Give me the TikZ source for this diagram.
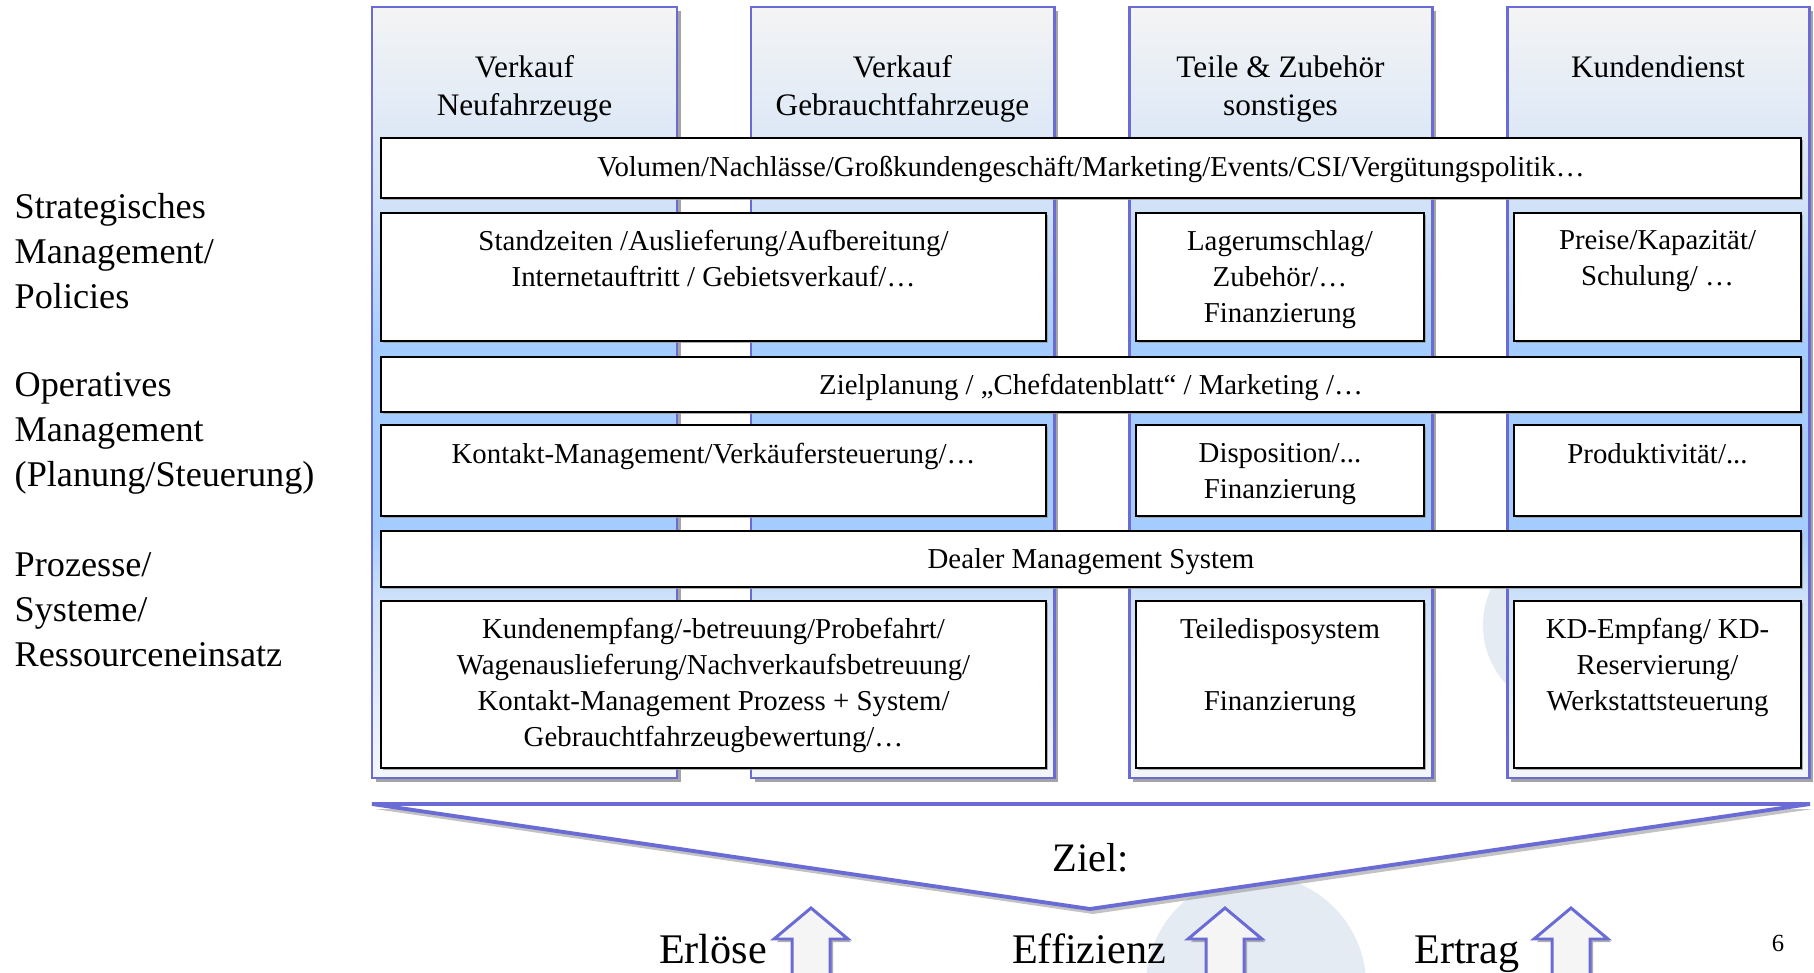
\documentclass[tikz,border=0pt]{standalone}
\usepackage{fontspec}
\setmainfont{Liberation Serif}
\usetikzlibrary{positioning,fit,shadows}

\definecolor{colBorder}{HTML}{6B6BD5}
\definecolor{colTop}{HTML}{F4F4F4}
\definecolor{colMid}{HTML}{A4CCFF}
\definecolor{colPale}{HTML}{D0E2F8}
\definecolor{colBot}{HTML}{F3F6F9}
\definecolor{shadowGray}{HTML}{9A9A9A}
\definecolor{bubbleBlue}{HTML}{E4EBF3}
\definecolor{arrowFill}{HTML}{F5F5F5}

\pgfdeclareverticalshading{columnshade}{100bp}{color(0bp)=(colBot); color(25bp)=(colBot); color(36.5bp)=(colPale); color(41bp)=(colMid); color(52.8bp)=(colMid); color(62bp)=(colPale); color(75bp)=(colTop); color(100bp)=(colTop)}

\begin{document}
\begin{tikzpicture}[x=0.01cm, y=-0.01cm,
    column/.style={draw=colBorder, line width=0.85pt, shading=columnshade, inner sep=0pt,
      drop shadow={shadow xshift=0.4mm, shadow yshift=-0.4mm, fill=shadowGray, opacity=0.9}},
    cell/.style={draw=black, line width=0.75pt, fill=white, inner sep=0pt,
      drop shadow={shadow xshift=0.2mm, shadow yshift=-0.2mm, fill=shadowGray, opacity=0.8}},
    celltext/.style={font=\fontsize{8.2}{10.2}\selectfont, align=center, inner sep=0pt},
    bartext/.style={font=\fontsize{8.2}{10.2}\selectfont, inner sep=0pt, anchor=base},
    headtext/.style={font=\fontsize{8.9}{10.8}\selectfont, align=center, inner sep=0pt, anchor=north},
    leveltext/.style={font=\fontsize{10.3}{12.8}\selectfont, align=left, inner sep=0pt, anchor=north west},
    goaltext/.style={font=\fontsize{12}{14}\selectfont, inner sep=0pt, anchor=base},
    goalwedge/.style={draw=colBorder, line width=1.1pt, fill=white, line join=miter,
      drop shadow={shadow xshift=0.3mm, shadow yshift=-0.5mm, fill=shadowGray, opacity=0.6}},
    uparrow/.style={draw=colBorder, line width=0.85pt, fill=arrowFill, line join=miter,
      drop shadow={shadow xshift=0.3mm, shadow yshift=-0.3mm, fill=shadowGray, opacity=0.8}}]

  \useasboundingbox (0,0) rectangle (1814,973);

  % Background bubbles
  \fill[bubbleBlue] (1256,985) circle (1.1cm);
  \fill[bubbleBlue] (1570,625) circle (0.87cm);

  % Columns
  \node[column, fit={(372,7) (677,778)}] (colNeu) {};
  \node[column, fit={(751,7) (1054,778)}] (colGebr) {};
  \node[column, fit={(1129,7) (1432,778)}] (colTeile) {};
  \node[column, fit={(1507,7) (1809,778)}] (colKD) {};

  \node[headtext] (hNeu) at (524.5,55) {Verkauf\\Neufahrzeuge};
  \node[headtext] (hGebr) at (902.5,55) {Verkauf\\Gebrauchtfahrzeuge};
  \node[headtext] (hTeile) at (1280.5,55) {Teile \& Zubehör\\sonstiges};
  \node[headtext] (hKD) at (1658,55) {Kundendienst};

  % Levels
  \node[leveltext] (lvStrat) at (14,193) {Strategisches\\Management/\\Policies};
  \node[leveltext] (lvOp) at (14,372) {Operatives\\Management\\(Planung/Steuerung)};
  \node[leveltext] (lvProz) at (14,552) {Prozesse/\\Systeme/\\Ressourceneinsatz};

  % Strategisches Management
  \node[cell, fit={(381,138) (1801,198)}] (barPol) {};
  \node[bartext] (tPol) at (1091,176.5) {Volumen/Nachlässe/Großkundengeschäft/Marketing/Events/CSI/Vergütungspolitik…};
  \node[cell, fit={(381,213) (1046,341)}] (polVK) {};
  \node[cell, fit={(1136,213) (1424,341)}] (polTeile) {};
  \node[cell, fit={(1514,213) (1801,341)}] (polKD) {};
  \node[celltext, below=0.18cm of polVK.north] (tPolVK) {Standzeiten /Auslieferung/Aufbereitung/\\Internetauftritt / Gebietsverkauf/…};
  \node[celltext, below=0.18cm of polTeile.north] (tPolTeile) {Lagerumschlag/\\Zubehör/…\\Finanzierung};
  \node[celltext, below=0.18cm of polKD.north] (tPolKD) {Preise/Kapazität/\\Schulung/ …};

  % Operatives Management
  \node[cell, fit={(381,357) (1801,412)}] (barOp) {};
  \node[bartext] (tOp) at (1091,394.5) {Zielplanung / „Chefdatenblatt“ / Marketing /…};
  \node[cell, fit={(381,425) (1046,516)}] (opVK) {};
  \node[cell, fit={(1136,425) (1424,516)}] (opTeile) {};
  \node[cell, fit={(1514,425) (1801,516)}] (opKD) {};
  \node[celltext, below=0.19cm of opVK.north] (tOpVK) {Kontakt-Management/Verkäufersteuerung/…};
  \node[celltext, below=0.19cm of opTeile.north] (tOpTeile) {Disposition/...\\Finanzierung};
  \node[celltext, below=0.19cm of opKD.north] (tOpKD) {Produktivität/...};

  % Prozesse / Systeme
  \node[cell, fit={(381,531) (1801,587)}] (barSys) {};
  \node[bartext] (tSys) at (1091,568.5) {Dealer Management System};
  \node[cell, fit={(381,601) (1046,768)}] (prVK) {};
  \node[cell, fit={(1136,601) (1424,768)}] (prTeile) {};
  \node[cell, fit={(1514,601) (1801,768)}] (prKD) {};
  \node[celltext, below=0.18cm of prVK.north] (tPrVK) {Kundenempfang/-betreuung/Probefahrt/\\Wagenauslieferung/Nachverkaufsbetreuung/\\Kontakt-Management Prozess + System/\\Gebrauchtfahrzeugbewertung/…};
  \node[celltext, below=0.18cm of prTeile.north] (tPrTeile) {Teiledisposystem\\\mbox{}\\Finanzierung};
  \node[celltext, below=0.18cm of prKD.north] (tPrKD) {KD-Empfang/ KD-\\Reservierung/\\Werkstattsteuerung};

  % Ziel
  \coordinate (zLeft) at (372,804);
  \coordinate (zRight) at (1810,804);
  \coordinate (zTip) at (1090,909);
  \draw[goalwedge] (zLeft) -- (zRight) -- (zTip) -- cycle;
  \node[goaltext, font=\fontsize{11.5}{14}\selectfont] (ziel) at (1091,871) {Ziel:};

  \node[goaltext] (gErl) at (713,963) {Erlöse};
  \node[goaltext] (gEff) at (1089,963) {Effizienz};
  \node[goaltext] (gErt) at (1467,963) {Ertrag};
  \foreach \ax in {811,1225,1571}
    \draw[uparrow] (\ax,908) -- ++(37,31) -- ++(-18,0) -- ++(0,60) -- ++(-38,0) -- ++(0,-60) -- ++(-18,0) -- cycle;

  \node[font=\fontsize{7}{8}\selectfont, anchor=base, inner sep=0pt] (pageNo) at (1778,951) {6};
\end{tikzpicture}
\end{document}
